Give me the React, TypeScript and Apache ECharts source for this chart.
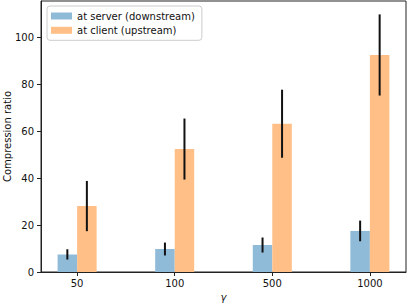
import React, { useEffect, useRef } from 'react';
import * as echarts from 'echarts';

const categories = ['50', '100', '500', '1000'];
const serverValues = [7.5, 9.8, 11.5, 17.5];
const serverErrors = [2.2, 2.75, 3.2, 4.4];
const clientValues = [28.1, 52.4, 63.2, 92.5];
const clientErrors = [10.7, 13.0, 14.5, 17.3];
const yTicks = [0, 20, 40, 60, 80, 100];
const xTicks = [0, 1, 2, 3];

const serverColor = '#8fbbd9';
const clientColor = '#ffbf86';
const barW = 0.2;

const font = '"DejaVu Sans", sans-serif';
const fs = 10;

function barSeries(name: string, values: number[], offset: number, color: string) {
  return {
    name,
    type: 'custom',
    itemStyle: { color },
    encode: { x: 0, y: 1 },
    data: values.map((v, i) => [i, v]),
    renderItem: (params: any, api: any) => {
      const x = api.value(0);
      const y = api.value(1);
      const p0 = api.coord([x + offset, y]);
      const p1 = api.coord([x + offset + barW, 0]);
      return {
        type: 'rect',
        shape: { x: p0[0], y: p0[1], width: p1[0] - p0[0], height: p1[1] - p0[1] },
        style: { fill: color },
      };
    },
    z: 2,
  };
}

function errSeries(values: number[], errs: number[], offset: number) {
  return {
    type: 'custom',
    encode: { x: 0, y: [1, 2] },
    data: values.map((v, i) => [i + offset, v - errs[i], v + errs[i]]),
    renderItem: (params: any, api: any) => {
      const x = api.value(0);
      const a = api.coord([x, api.value(1)]);
      const b = api.coord([x, api.value(2)]);
      return {
        type: 'line',
        shape: { x1: a[0], y1: a[1], x2: b[0], y2: b[1] },
        style: { stroke: '#111', lineWidth: 2 },
      };
    },
    z: 5,
  };
}

export default function App() {
  const ref = useRef<HTMLDivElement>(null);
  useEffect(() => {
    const chart = echarts.init(ref.current!, null, { renderer: 'svg' });
    chart.setOption({
      animation: false,
      textStyle: { fontFamily: font },
      grid: {
        left: 41,
        right: 2,
        top: 1,
        bottom: 31,
        containLabel: false,
        outerBoundsMode: 'none',
        show: true,
        borderColor: '#222',
        borderWidth: 1,
      },
      legend: {
        orient: 'vertical',
        left: 47,
        top: 6,
        padding: [4, 7, 4, 4],
        itemWidth: 21,
        itemHeight: 7,
        itemGap: 2.3,
        borderColor: '#cccccc',
        borderWidth: 1,
        borderRadius: 3,
        backgroundColor: 'rgba(255,255,255,0.8)',
        textStyle: { fontFamily: font, fontSize: fs, color: '#111', lineHeight: 12 },
        data: [
          { name: 'at server (downstream)', icon: 'rect', itemStyle: { color: serverColor } },
          { name: 'at client (upstream)', icon: 'rect', itemStyle: { color: clientColor } },
        ],
      },
      xAxis: {
        type: 'value',
        min: -0.37,
        max: 3.37,
        splitLine: { show: false },
        axisLine: { show: true, onZero: false, lineStyle: { color: '#222', width: 1 } },
        axisTick: { show: true, length: 4, customValues: xTicks, lineStyle: { color: '#222' } },
        axisLabel: {
          customValues: xTicks,
          formatter: (v: number) => categories[Math.round(v)] ?? '',
          margin: 6,
          fontSize: fs,
          color: '#111',
          fontFamily: font,
        },
        name: 'γ',
        nameLocation: 'middle',
        nameGap: 20,
        nameMoveOverlap: false,
        nameTextStyle: { fontSize: fs, fontStyle: 'italic', color: '#111', fontFamily: font },
      },
      yAxis: {
        type: 'value',
        min: 0,
        max: 115.5,
        splitLine: { show: false },
        axisLine: { show: true, onZero: false, lineStyle: { color: '#222', width: 1 } },
        axisTick: { show: true, length: 4, customValues: yTicks, lineStyle: { color: '#222' } },
        axisLabel: {
          customValues: yTicks,
          margin: 7,
          fontSize: fs,
          color: '#111',
          fontFamily: font,
        },
        name: 'Compression ratio',
        nameLocation: 'middle',
        nameGap: 29,
        nameRotate: 90,
        nameMoveOverlap: false,
        nameTextStyle: { fontSize: fs, color: '#111', fontFamily: font },
      },
      series: [
        barSeries('at server (downstream)', serverValues, -barW, serverColor),
        barSeries('at client (upstream)', clientValues, 0, clientColor),
        errSeries(serverValues, serverErrors, -barW / 2),
        errSeries(clientValues, clientErrors, barW / 2),
      ],
    });
    return () => chart.dispose();
  }, []);
  return (
    <div
      ref={ref}
      style={{ position: 'fixed', left: 0, top: 0, width: 408, height: 303, background: '#fff' }}
    />
  );
}
